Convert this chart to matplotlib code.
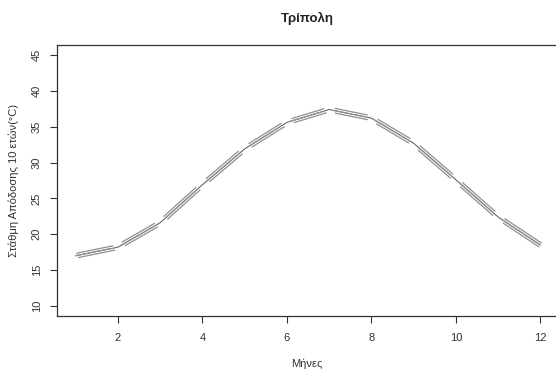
import numpy as np
import matplotlib
matplotlib.use("Agg")
import matplotlib.pyplot as plt
from matplotlib.transforms import offset_copy

plt.rcParams['font.family'] = ['Liberation Sans', 'DejaVu Sans']

# Monthly values for Tripoli
months = [1, 2, 3, 4, 5, 6, 7, 8, 9, 10, 11, 12]
level = [17.0, 18.2, 21.6, 26.9, 31.9, 35.6, 37.4, 36.2, 32.7, 27.6, 22.4, 18.5]
x_ticks = [2, 4, 6, 8, 10, 12]
y_ticks = [10, 15, 20, 25, 30, 35, 40, 45]

title = "Τρίπολη"
x_label = "Μήνες"
y_label = "Στάθμη Απόδοσης 10 ετών(°C)"

W, H, DPI = 556, 374, 100
fig = plt.figure(figsize=(W / DPI, H / DPI), dpi=DPI)
ax = fig.add_axes([57 / W, (H - 316) / H, 502 / W, 271 / H])

ink = "#333333"
ax.set_xlim(1 - 0.04 * 11, 12 + 0.04 * 11)
ax.set_ylim(10 - 0.04 * 35, 45 + 0.04 * 35)

# thin connecting line through every month
ax.plot(months, level, color="#555555", lw=0.7, zorder=2)

# bundles of parallel strokes along each month-to-month segment
fig.canvas.draw()
xs = np.array(months, dtype=float)
ys = np.array(level, dtype=float)
for i in range(len(xs) - 1):
    p0 = ax.transData.transform((xs[i], ys[i]))
    p1 = ax.transData.transform((xs[i + 1], ys[i + 1]))
    d = p1 - p0
    L = np.hypot(*d)
    u = d / L
    n = np.array([-u[1], u[0]])
    t0 = 0.0 if i == 0 else 0.1
    t1 = 1.0 if i == len(xs) - 2 else 0.88
    for k, (off, shift) in enumerate([(-2.3, 2.0), (0.0, -1.0), (2.3, 1.0)]):
        a = t0 + shift / L
        b = t1 + shift / L
        a = max(a, 0.0)
        b = min(b, 1.0)
        sx = [xs[i] + a * (xs[i + 1] - xs[i]), xs[i] + b * (xs[i + 1] - xs[i])]
        sy = [ys[i] + a * (ys[i + 1] - ys[i]), ys[i] + b * (ys[i + 1] - ys[i])]
        tr = offset_copy(ax.transData, fig=fig, x=off * n[0], y=off * n[1], units='dots')
        ax.plot(sx, sy, color="#8f8f8f", lw=0.9, transform=tr, zorder=3,
                solid_capstyle='butt')

ax.set_xticks(x_ticks)
ax.set_yticks(y_ticks)
ax.tick_params(axis='both', direction='out', length=5, width=0.8, color=ink,
               labelcolor=ink, labelsize=8)
ax.tick_params(axis='x', pad=7)
ax.tick_params(axis='y', pad=6)
for lab in ax.get_yticklabels():
    lab.set_rotation(90)
    lab.set_va('center')
for sp in ax.spines.values():
    sp.set_color(ink)
    sp.set_linewidth(0.9)
ax.spines['right'].set_visible(False)

fig.text(307 / W, 1 - 18 / H, title, ha='center', va='center',
         fontsize=9.5, fontweight='bold', color="#222222")
fig.text(307 / W, 1 - 364 / H, x_label, ha='center', va='center',
         fontsize=8, color=ink)
fig.text(14 / W, 1 - 180 / H, y_label, ha='center', va='center',
         rotation=90, fontsize=8, color=ink)

fig.savefig("out.png", dpi=DPI)
